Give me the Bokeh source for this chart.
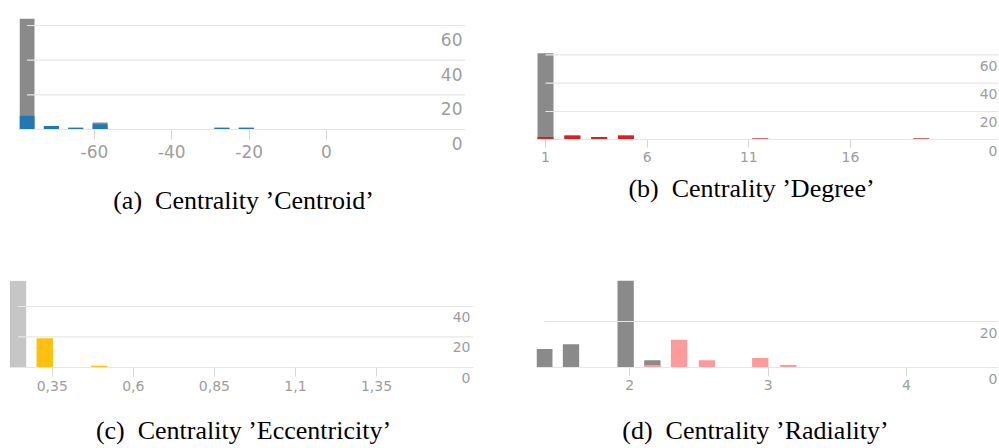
from bokeh.plotting import figure
from bokeh.layouts import column, row
from bokeh.models import Range1d, FixedTicker, CustomJSTickFormatter, LinearAxis
from bokeh.core.properties import value
from bokeh.embed import file_html
from bokeh.resources import INLINE

# (a) Centrality 'Centroid' -- bin centres and counts
centroid_bins = [-77.45, -71.15, -64.85, -58.55, -27.05, -20.75]
centroid_all = [64, 2, 1, 4, 1, 1]
centroid_sel = [8, 2, 1, 3, 1, 1]
centroid_xticks = [-60, -40, -20, 0]
centroid_yticks = [0, 20, 40, 60]

# (b) Centrality 'Degree'
degree_bins = [1.0, 2.32, 3.64, 4.96, 11.56, 19.48]
degree_all = [61, 3, 2, 3, 1, 1]
degree_sel = [2, 3, 2, 3, 1, 1]
degree_xticks = [1, 6, 11, 16]
degree_yticks = [0, 20, 40, 60]

# (c) Centrality 'Eccentricity'
ecc_all_bins = [0.2445]
ecc_all = [57]
ecc_sel_bins = [0.327, 0.495]
ecc_sel = [19, 1]
ecc_xticks = [0.35, 0.6, 0.85, 1.1, 1.35]
ecc_yticks = [0, 20, 40]

# (d) Centrality 'Radiality'
rad_all_bins = [1.382, 1.575, 1.970, 2.163]
rad_all = [8, 10, 38, 3]
rad_sel_bins = [2.163, 2.356, 2.558, 2.943, 3.146]
rad_sel = [1, 12, 3, 4, 1]
rad_xticks = [2, 3, 4]
rad_yticks = [0, 20]

captions_top = ["(a)\u00a0 Centrality \u2019Centroid\u2019", "(b)\u00a0 Centrality \u2019Degree\u2019"]
captions_bottom = ["(c)\u00a0 Centrality \u2019Eccentricity\u2019", "(d)\u00a0 Centrality \u2019Radiality\u2019"]

LABEL_FONT = "DejaVu Sans"
LABEL_COLOR = "#9d9d9d"
GRID_COLOR = "#e6e6e6"
TICK_COLOR = "#d6d6d6"
GREY = "#8a8a8a"


def histogram_panel(width, height, borders, xr, yr, all_bins, all_counts, sel_bins, sel_counts,
                    bar_w, all_color, sel_color, xticks, yticks, font_px, tick_out, standoff,
                    label_dx, label_dy):
    left, right, top, bottom = borders
    p = figure(width=width, height=height, x_range=Range1d(*xr), y_range=Range1d(*yr),
               output_backend="svg", toolbar_location=None,
               x_axis_location=None, y_axis_location=None,
               min_border_left=left, min_border_right=right,
               min_border_top=top, min_border_bottom=bottom)
    p.outline_line_color = None
    p.background_fill_color = "white"
    p.border_fill_color = "white"
    for g in p.grid:
        g.visible = False

    # overall distribution behind, highlighted subset in front
    p.vbar(x=all_bins, top=all_counts, width=bar_w, bottom=0, fill_color=all_color, line_color=None)
    p.vbar(x=sel_bins, top=sel_counts, width=bar_w, bottom=0, fill_color=sel_color, line_color=None)

    # horizontal grid lines start at the first bin centre and run over the bars
    start = min(list(all_bins) + list(sel_bins))
    levels = [t for t in yticks if t != 0]
    if levels:
        p.segment(x0=[start] * len(levels), y0=levels, x1=[xr[1]] * len(levels), y1=levels,
                  line_color=GRID_COLOR, line_width=1.2)

    # value labels sit inside the plot, right aligned, just below each grid line
    p.text(x=[xr[1]] * len(yticks), y=yticks, text=[str(t) for t in yticks],
           text_align="right", text_baseline="middle", x_offset=label_dx, y_offset=label_dy,
           text_font=value(LABEL_FONT), text_font_size=f"{font_px}px", text_color=LABEL_COLOR)

    ax = LinearAxis(fixed_location=0, ticker=FixedTicker(ticks=xticks, minor_ticks=[]),
                    formatter=CustomJSTickFormatter(code="return String(tick).replace('.', ',')"))
    ax.axis_line_color = GRID_COLOR
    ax.axis_line_width = 1.2
    ax.major_tick_line_color = TICK_COLOR
    ax.major_tick_in = 0
    ax.major_tick_out = tick_out
    ax.minor_tick_line_color = None
    ax.major_label_standoff = standoff
    ax.major_label_text_font = LABEL_FONT
    ax.major_label_text_font_size = f"{font_px}px"
    ax.major_label_text_color = LABEL_COLOR
    p.add_layout(ax, "below")
    return p


def caption_strip(height, xs, ys, texts):
    c = figure(width=999, height=height, x_range=Range1d(0, 999), y_range=Range1d(height, 0),
               output_backend="svg", toolbar_location=None,
               x_axis_location=None, y_axis_location=None, min_border=0)
    c.outline_line_color = None
    for g in c.grid:
        g.visible = False
    c.text(x=xs, y=ys, text=texts, text_align="center", text_baseline="middle",
           text_font=value("Liberation Serif"), text_font_size="26px", text_color="black")
    return c


# panels in one row share their top and bottom borders
pa = histogram_panel(500, 175, (19, 35, 18, 10), (-79.39, 35.95), (-20.77, 64.05),
                     centroid_bins, centroid_all, centroid_bins, centroid_sel,
                     3.88, GREY, "#2277b5", centroid_xticks, centroid_yticks,
                     17, 10, 5, -3, 14)

pb = histogram_panel(499, 175, (36, 1, 18, 10), (0.557, 23.28), (-18.1, 85.6),
                     degree_bins, degree_all, degree_bins, degree_sel,
                     0.787, GREY, "#e41a1c", degree_xticks, degree_yticks,
                     14, 8, 4, -1, 11)

pc = histogram_panel(500, 177, (9, 27, 55, 4), (0.2183, 1.649), (-20.63, 57.13),
                     ecc_all_bins, ecc_all, ecc_sel_bins, ecc_sel,
                     0.0506, "#c6c6c6", "#ffc010", ecc_xticks, ecc_yticks,
                     14, 9, 5, -3, 10.5)

pd = histogram_panel(499, 177, (36, 1, 55, 4), (1.3256, 4.665), (-13.7, 37.94),
                     rad_all_bins, rad_all, rad_sel_bins, rad_sel,
                     0.118, GREY, "#ff9a9a", rad_xticks, rad_yticks,
                     14, 9, 4, -1, 11.5)

cap_top = caption_strip(50, [243, 751], [25, 13], captions_top)
cap_bottom = caption_strip(46, [243, 755], [28, 28], captions_bottom)

layout = column(row(pa, pb), cap_top, row(pc, pd), cap_bottom)

open("out.html", "w").write(file_html(layout, INLINE))
